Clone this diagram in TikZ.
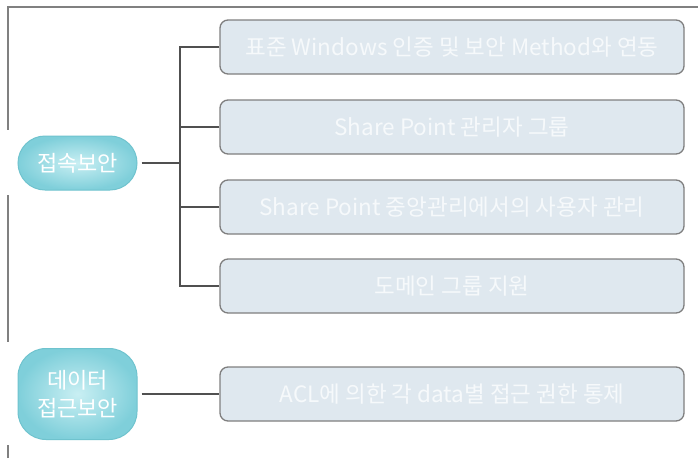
\documentclass[tikz,border=0pt]{standalone}
\usepackage{fontspec}
\setmainfont{Noto Sans CJK KR}
\definecolor{framegray}{HTML}{808080}
\definecolor{linegray}{HTML}{505050}
\definecolor{boxfill}{HTML}{DFE8EF}
\definecolor{boxdraw}{HTML}{7F7F7F}
\definecolor{boxtext}{HTML}{F6F9FB}
\definecolor{ovalin}{HTML}{C9EFF3}
\definecolor{ovalout}{HTML}{7FCFDA}
\definecolor{ovaldraw}{HTML}{6FC3CE}
\tikzset{
  itembox/.style={draw=boxdraw, line width=1.3pt, fill=boxfill, rounded corners=8pt,
    minimum width=464pt, minimum height=54pt, inner sep=0pt, text=boxtext,
    font=\fontsize{22.5}{27}\selectfont},
  pill/.style={draw=ovaldraw, line width=1pt, inner color=ovalin, outer color=ovalout,
    minimum width=119pt, inner sep=0pt, text=white, align=center,
    font=\fontsize{22}{28}\selectfont},
  conn/.style={draw=linegray, line width=1.8pt},
}
\begin{document}
\begin{tikzpicture}[x=1pt,y=-1pt]
\useasboundingbox (0,0) rectangle (698,458);
% frame
\draw[framegray, line width=1.5pt] (8,458) -- (8,7) -- (698,7);
% white patches behind ovals
\fill[white] (6,130) rectangle (140,195);
\fill[white] (6,342) rectangle (140,445);
% ovals
\node[pill, minimum height=54pt, rounded corners=27pt] (o1) at (77.5,163) {접속보안};
\node[pill, minimum height=91pt, rounded corners=28pt] (o2) at (77.5,394) {데이터\\접근보안};
% boxes
\node[itembox] (b1) at (452,47) {표준 Windows 인증 및 보안 Method와 연동};
\node[itembox] (b2) at (452,127) {Share Point 관리자 그룹};
\node[itembox] (b3) at (452,207) {Share Point 중앙관리에서의 사용자 관리};
\node[itembox] (b4) at (452,286) {도메인 그룹 지원};
\node[itembox] (b5) at (452,394) {ACL에 의한 각 data별 접근 권한 통제};
% connectors
\coordinate (t1) at (180,163);
\draw[conn] ([xshift=4pt]o1.east) -- (t1);
\draw[conn] (b1.west) -| (t1);
\draw[conn] (b2.west) -| (t1);
\draw[conn] (b3.west) -| (t1);
\draw[conn] (b4.west) -| (t1);
\draw[conn] ([xshift=4pt]o2.east) -- (b5.west);
\end{tikzpicture}
\end{document}
